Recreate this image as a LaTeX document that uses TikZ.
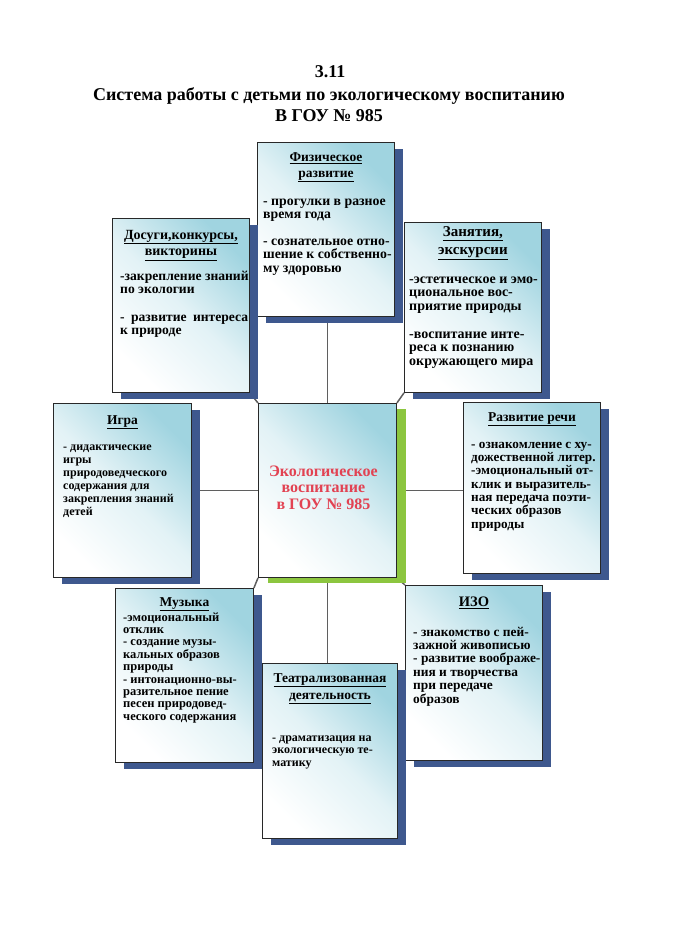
\documentclass[tikz,border=0pt]{standalone}
\usepackage{fontspec}
\setmainfont{Liberation Serif}
\usetikzlibrary{shadows}
\setlength{\parindent}{0pt}

\definecolor{boxtop}{RGB}{160,212,224}
\definecolor{shadowblue}{RGB}{62,88,142}
\definecolor{shadowgreen}{RGB}{140,198,63}
\definecolor{linkgray}{RGB}{95,95,95}
\definecolor{framegray}{RGB}{40,40,40}
\definecolor{ecored}{RGB}{226,66,82}

\pgfdeclarelayer{background}
\pgfsetlayers{background,main}

\begin{document}
\begin{tikzpicture}
                [x=1pt, y=-1pt,
                  every node/.style={font=\bfseries},
                  title/.style={anchor=base, font=\fontsize{18}{20}\selectfont\bfseries},
                  topic/.style={draw=framegray, line width=0.9pt, anchor=north west, inner sep=0pt,
                    minimum width=137pt, minimum height=174pt,
                    top color=boxtop, bottom color=white, shading angle=-45,
                    middle color=boxtop!30!white},
                  blue shadow/.style={drop shadow={shadow xshift=9pt, shadow yshift=-7pt,
                    fill=shadowblue, opacity=1}},
                  green shadow/.style={drop shadow={shadow xshift=10pt, shadow yshift=-6pt,
                    fill=shadowgreen, opacity=1}},
                  head/.style={anchor=north, align=center, inner sep=0pt,
                    font=\fontsize{13.5}{16}\selectfont\bfseries},
                  body/.style 2 args={anchor=north west, align=left, inner sep=0pt,
                    font=\fontsize{#1}{#2}\selectfont\bfseries},
                  link/.style={draw=linkgray, line width=1.5pt},
                ]
                \useasboundingbox (0,0) rectangle (681,937);

                % title
                \node[title] (num) at (330,77) {3.11};
                \node[title] (head) at (329,100) {Система работы с детьми по экологическому воспитанию};
                \node[title] (school) at (329,121) {В ГОУ № 985};

                % boxes
                \node[topic, blue shadow] (phys) at (257,142) {};
                \node[topic, blue shadow] (dosug) at (112,218) {};
                \node[topic, blue shadow, minimum height=170pt] (zan) at (404,222) {};
                \node[topic, blue shadow, minimum width=138pt] (igra) at (53,403) {};
                \node[topic, green shadow, minimum width=138pt] (center) at (258,403) {};
                \node[topic, blue shadow, minimum height=171pt] (rech) at (463,402) {};
                \node[topic, blue shadow, minimum width=138pt] (muz) at (115,588) {};
                \node[topic, blue shadow, minimum height=175pt] (izo) at (405,585) {};
                \node[topic, blue shadow, minimum width=135pt, minimum height=175pt] (teatr) at (262,663) {};

                % headings
                \node[head] (phys-head) at ([yshift=-7.8pt]phys.north)
                  {\strut\underline{Физическое}\\ \underline{развитие}};
                \node[head, font=\fontsize{14}{16.7}\selectfont\bfseries] (dosug-head) at ([yshift=-9.3pt]dosug.north)
                  {\strut\underline{Досуги,конкурсы,}\\ \underline{викторины}};
                \node[head, font=\fontsize{15}{18}\selectfont\bfseries] (zan-head) at ([yshift=-1.4pt]zan.north)
                  {\strut\underline{Занятия,}\\ \underline{экскурсии}};
                \node[head] (igra-head) at ([yshift=-9.8pt]igra.north) {\strut\underline{Игра}};
                \node[head] (rech-head) at ([yshift=-7.8pt]rech.north) {\strut\underline{Развитие речи}};
                \node[head] (muz-head) at ([yshift=-6.8pt]muz.north) {\strut\underline{Музыка}};
                \node[head, font=\fontsize{14.5}{16}\selectfont\bfseries] (izo-head) at ([yshift=-9.8pt]izo.north)
                  {\strut\underline{ИЗО}};
                \node[head, font=\fontsize{13.5}{17}\selectfont\bfseries] (teatr-head) at ([yshift=-7.1pt]teatr.north)
                  {\strut\underline{Театрализованная}\\ \underline{деятельность}};

                % texts
                \node[body={13.8}{13.4}] (phys-text) at ([xshift=6pt, yshift=-53.6pt]phys.north west)
                  {\strut- прогулки в разное\\ время года\\[13.6pt]
                   - сознательное отно-\\ шение к собственно-\\ му здоровью};
                \node[body={13.6}{13.3}] (dosug-text) at ([xshift=8pt, yshift=-52.7pt]dosug.north west)
                  {\strut-закрепление знаний\\ по экологии\\[14.7pt]
                   \makebox[128pt][s]{- развитие интереса}\\ к природе};
                \node[body={14}{13.5}] (zan-text) at ([xshift=5pt, yshift=-51.5pt]zan.north west)
                  {\strut-эстетическое и эмо-\\ циональное вос-\\ приятие природы\\[14.5pt]
                   -воспитание инте-\\ реса к познанию\\ окружающего мира};
                \node[body={12}{13.1}] (igra-text) at ([xshift=10pt, yshift=-37.8pt]igra.north west)
                  {\strut- дидактические\\ игры\\ природоведческого\\ содержания для\\
                   закрепления знаний\\ детей};
                \node[body={13.2}{13.3}] (rech-text) at ([xshift=8pt, yshift=-36.7pt]rech.north west)
                  {\strut- ознакомление с ху-\\ дожественной литер.\\ -эмоциональный от-\\
                   клик и выразитель-\\ ная передача поэти-\\ ческих образов\\ природы};
                \node[body={12.5}{12.4}] (muz-text) at ([xshift=8pt, yshift=-24.3pt]muz.north west)
                  {\strut-эмоциональный\\ отклик\\ - создание музы-\\ кальных образов\\ природы\\
                   - интонационно-вы-\\ разительное пение\\ песен природовед-\\ ческого содержания};
                \node[body={13.4}{13.4}] (izo-text) at ([xshift=8pt, yshift=-41.6pt]izo.north west)
                  {\strut- знакомство с пей-\\ зажной живописью\\ - развитие воображе-\\
                   ния и творчества\\ при передаче\\ образов};
                \node[body={12}{12.5}] (teatr-text) at ([xshift=10pt, yshift=-69.2pt]teatr.north west)
                  {\strut- драматизация на\\ экологическую те-\\ матику};
                \node[align=center, text=ecored, font=\fontsize{16}{16.5}\selectfont\bfseries]
                  (center-text) at ([xshift=-4pt, yshift=3pt]center.center)
                  {Экологическое\\ воспитание\\ в ГОУ № 985};

                % connectors under the shadows
                \begin{pgfonlayer}{background}
                  \fill[white] (0,0) rectangle (681,937);
                  \draw[link] (center.north) -- (center.north |- phys.south);
                  \draw[link] (center.south) -- (center.south |- teatr.north);
                  \draw[link] (center.west) -- (center.west -| igra.east);
                  \draw[link] (center.east) -- (center.east -| rech.west);
                  \draw[link] (center.north west) -- (dosug.south east);
                  \draw[link] (center.north east) -- (zan.south west);
                  \draw[link] (center.south west) -- (muz.north east);
                  \draw[link] (center.south east) -- (izo.north west);
                \end{pgfonlayer}
            \end{tikzpicture}
\end{document}
